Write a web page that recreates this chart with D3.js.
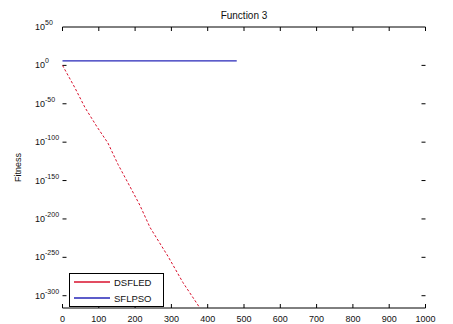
<!DOCTYPE html>
<html>
<head>
<meta charset="utf-8">
<script src="https://cdn.jsdelivr.net/npm/d3@7"></script>
<style>
  body { margin: 0; background: #fff; }
  text { font-family: "Liberation Sans", Arial, sans-serif; fill: #111; }
</style>
</head>
<body>
<svg id="chart"></svg>
<script>
// values
const chartTitle = 'Function 3';
const yLabel = 'Fitness';
const seriesNames = ['DSFLED', 'SFLPSO'];
const seriesColors = ['#d8102c', '#2626b8'];

// red series: iteration, fitness
const redIter = [0, 34, 62, 95, 125, 153, 186, 213, 241, 291, 332, 373, 378];
const redFit = [1e0, 1e-29, 1e-55, 1e-80, 1e-101, 1e-129, 1e-158, 1e-182, 1e-211, 1e-249, 1e-283, 1e-312, 1e-316];

// blue series: flat
const blueIter = [0, 480];
const blueFit = [1e6, 1e6];

const xTicks = [0, 100, 200, 300, 400, 500, 600, 700, 800, 900, 1000];
const yTickExp = [50, 0, -50, -100, -150, -200, -250, -300];

const W = 453, H = 324;
const margin = { top: 27, bottom: 16, left: 62.5, right: 27.5 };

const svg = d3.select('#chart').attr('width', W).attr('height', H);

const x = d3.scaleLinear().domain([0, 1000]).range([margin.left, W - margin.right]);
const y = d3.scaleLog().domain([1e-316, 1e50]).range([H - margin.bottom, margin.top]);

const x0 = margin.left, x1 = W - margin.right;
const y0 = H - margin.bottom, y1 = margin.top;
const tl = 4;

// top / bottom frame lines
svg.append('line').attr('x1', x0).attr('x2', x1).attr('y1', y0).attr('y2', y0)
    .attr('stroke', '#000').attr('stroke-width', 1);
svg.append('line').attr('x1', x0).attr('x2', x1).attr('y1', y1).attr('y2', y1)
    .attr('stroke', '#000').attr('stroke-width', 1);

// x ticks (inward, bottom and top)
const xt = svg.append('g');
xTicks.forEach(t => {
    xt.append('line').attr('x1', x(t)).attr('x2', x(t)).attr('y1', y0).attr('y2', y0 - tl).attr('stroke', '#000');
    xt.append('line').attr('x1', x(t)).attr('x2', x(t)).attr('y1', y1).attr('y2', y1 + tl).attr('stroke', '#000');
    xt.append('text').attr('x', x(t)).attr('y', 322).attr('text-anchor', 'middle')
        .attr('font-size', 9).text(t);
});

// y ticks (inward, left and right) with 10^n labels
const yt = svg.append('g');
yTickExp.forEach(e => {
    const v = Math.pow(10, e);
    const py = y(v);
    if (e < 50) {
        yt.append('line').attr('x1', x0).attr('x2', x0 + tl).attr('y1', py).attr('y2', py).attr('stroke', '#000');
        yt.append('line').attr('x1', x1).attr('x2', x1 - tl).attr('y1', py).attr('y2', py).attr('stroke', '#000');
    }
    const lab = yt.append('text').attr('x', 35).attr('y', py + 3).attr('font-size', 9);
    lab.append('tspan').text('10');
    lab.append('tspan').attr('dy', -5).attr('font-size', 7).text(e);
});

// series
const line = d3.line().x(d => x(d[0])).y(d => y(d[1]));

svg.append('path')
    .datum(blueIter.map((d, i) => [d, blueFit[i]]))
    .attr('d', line)
    .attr('fill', 'none')
    .attr('stroke', seriesColors[1])
    .attr('stroke-width', 1.3);

svg.append('path')
    .datum(redIter.map((d, i) => [d, redFit[i]]))
    .attr('d', line)
    .attr('fill', 'none')
    .attr('stroke', seriesColors[0])
    .attr('stroke-width', 1)
    .attr('stroke-dasharray', '2.5,2');

// title and y label
svg.append('text').attr('x', (x0 + x1) / 2).attr('y', 19).attr('text-anchor', 'middle')
    .attr('font-size', 10).text(chartTitle);
svg.append('text').attr('transform', `translate(21,${(y0 + y1) / 2}) rotate(-90)`)
    .attr('text-anchor', 'middle').attr('font-size', 9).text(yLabel);

// legend
const lg = svg.append('g');
lg.append('rect').attr('x', 69.5).attr('y', 273.5).attr('width', 94).attr('height', 33)
    .attr('fill', '#fff').attr('stroke', '#000');
seriesNames.forEach((n, i) => {
    const ly = 282 + i * 16;
    lg.append('line').attr('x1', 74).attr('x2', 110).attr('y1', ly).attr('y2', ly)
        .attr('stroke', seriesColors[i]).attr('stroke-width', 1.3);
    lg.append('text').attr('x', 114).attr('y', ly + 3.5).attr('font-size', 9.5).text(n);
});
</script>
</body>
</html>
